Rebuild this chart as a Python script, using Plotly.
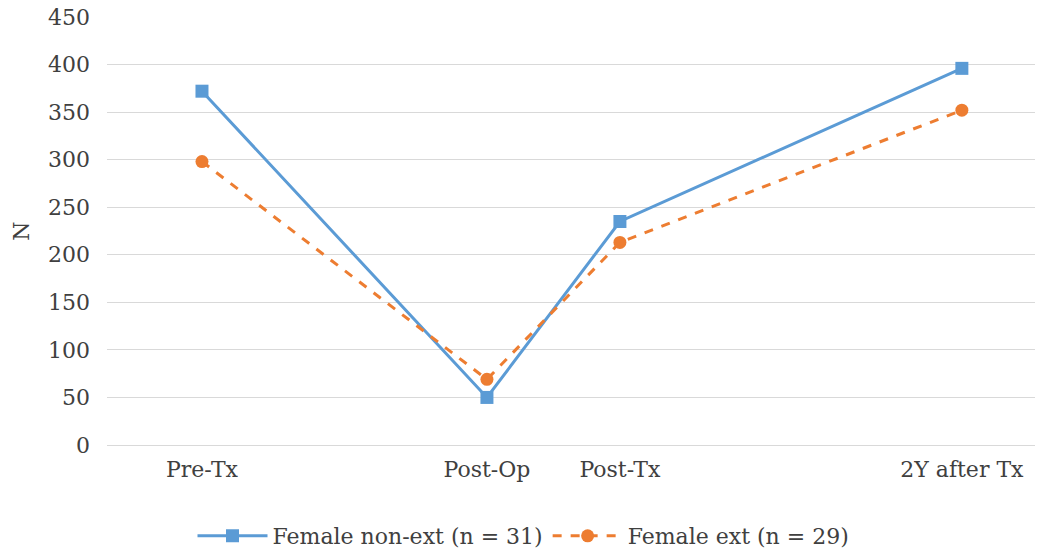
import plotly.graph_objects as go

categories = ["Pre-Tx", "Post-Op", "Post-Tx", "2Y after Tx"]
timepoints = [0.0, 3.0, 4.4, 8.0]
non_ext = [372, 50, 235, 396]
ext = [298, 69, 213, 352]
series_names = ["Female non-ext (n = 31)", "Female ext (n = 29)"]
y_ticks = [0, 50, 100, 150, 200, 250, 300, 350, 400, 450]

FONT = "DejaVu Serif"
BLUE = "#5B9BD5"
ORANGE = "#ED7D31"

fig = go.Figure()
fig.add_trace(go.Scatter(
    x=timepoints, y=non_ext, name=series_names[0], mode="lines+markers",
    line=dict(color=BLUE, width=3),
    marker=dict(symbol="square", size=13, color=BLUE),
))
fig.add_trace(go.Scatter(
    x=timepoints, y=ext, name=series_names[1], mode="lines+markers",
    line=dict(color=ORANGE, width=3, dash="dash"),
    marker=dict(symbol="circle", size=13, color=ORANGE),
))

fig.update_layout(
    width=1047, height=557,
    margin=dict(l=107, r=12, t=17, b=112, autoexpand=False),
    paper_bgcolor="white", plot_bgcolor="white",
    font=dict(family=FONT, size=22, color="#404040"),
    showlegend=True,
    legend=dict(orientation="h", xref="container", yref="container",
                x=0.5, xanchor="center", y=0.0, yanchor="bottom",
                font=dict(family=FONT, size=22, color="#404040"),
                itemwidth=70, tracegroupgap=0),
    xaxis=dict(range=[-1.0, 8.77], tickvals=timepoints, ticktext=categories,
               showgrid=False, zeroline=False, showline=True, automargin=False,
               linecolor="#d9d9d9", linewidth=1, ticks="", ticklabelstandoff=5),
    yaxis=dict(range=[0, 450], tickvals=y_ticks, showgrid=True, automargin=False,
               gridcolor="#d9d9d9", gridwidth=1, zeroline=False,
               ticks="", ticklabelstandoff=16,
               title=dict(text="N", standoff=12, font=dict(family=FONT, size=22, color="#404040"))),
)

fig.write_html("out.html")
